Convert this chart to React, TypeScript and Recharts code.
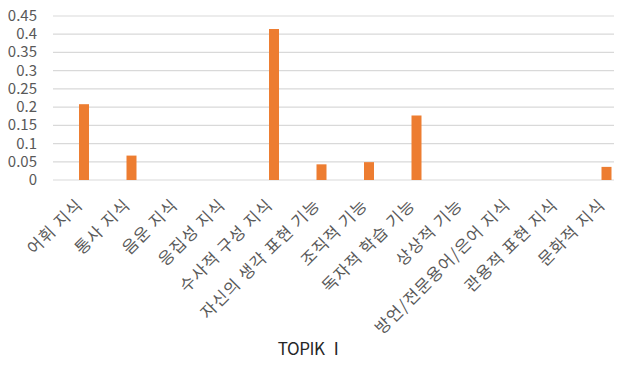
import { BarChart, Bar, XAxis, YAxis, CartesianGrid } from 'recharts';

const categories = [
  '어휘 지식',
  '통사 지식',
  '음운 지식',
  '응집성 지식',
  '수사적 구성 지식',
  '자신의 생각 표현 기능',
  '조직적 기능',
  '독자적 학습 기능',
  '상상적 기능',
  '방언/전문용어/은어 지식',
  '관용적 표현 지식',
  '문화적 지식',
];

const values = [0.208, 0.067, 0, 0, 0.414, 0.043, 0.049, 0.177, 0, 0, 0, 0.036];

const yTicks = [0, 0.05, 0.1, 0.15, 0.2, 0.25, 0.3, 0.35, 0.4, 0.45];

const title = 'TOPIK Ⅰ';

const data = categories.map((name, i) => ({ name, value: values[i] }));

const FONT = '"Noto Sans CJK KR", "Noto Sans", sans-serif';

function AngledTick(props: any) {
  const { x, y, payload } = props;
  return (
    <g transform={`translate(${x},${y + 18})`}>
      <text
        transform="rotate(-45)"
        textAnchor="end"
        fill="#595959"
        fontSize={16.5}
        letterSpacing={1.1}
        fontFamily={FONT}
      >
        {payload.value}
      </text>
    </g>
  );
}

function ValueTick(props: any) {
  const { x, y, payload } = props;
  return (
    <text x={x} y={y} dy={5} textAnchor="end" fill="#595959" fontSize={15} fontFamily={FONT}>
      {payload.value}
    </text>
  );
}

export default function App() {
  return (
    <div style={{ margin: -8, width: 622, height: 365, overflow: 'hidden', position: 'relative', background: '#fff' }}>
      <BarChart
        width={630}
        height={365}
        data={data}
        margin={{ top: 16, right: 0, left: 0, bottom: 0 }}
        barCategoryGap={0}
      >
        <CartesianGrid vertical={false} stroke="#d9d9d9" strokeWidth={1.2} />
        <XAxis
          dataKey="name"
          interval={0}
          axisLine={false}
          tickLine={false}
          height={185}
          padding={{ left: 7, right: 0 }}
          tick={<AngledTick />}
        />
        <YAxis
          width={53}
          domain={[0, 0.45]}
          ticks={yTicks}
          interval={0}
          axisLine={false}
          tickLine={false}
          tickMargin={10}
          tick={<ValueTick />}
        />
        <Bar dataKey="value" fill="#ED7D31" barSize={10} isAnimationActive={false} />
      </BarChart>
      <div
        style={{
          position: 'absolute',
          left: 0,
          width: 622,
          top: 335,
          textAlign: 'center',
          fontFamily: FONT,
          fontSize: 17,
          letterSpacing: -0.5,
          color: '#262626',
        }}
      >
        {title}
      </div>
    </div>
  );
}
